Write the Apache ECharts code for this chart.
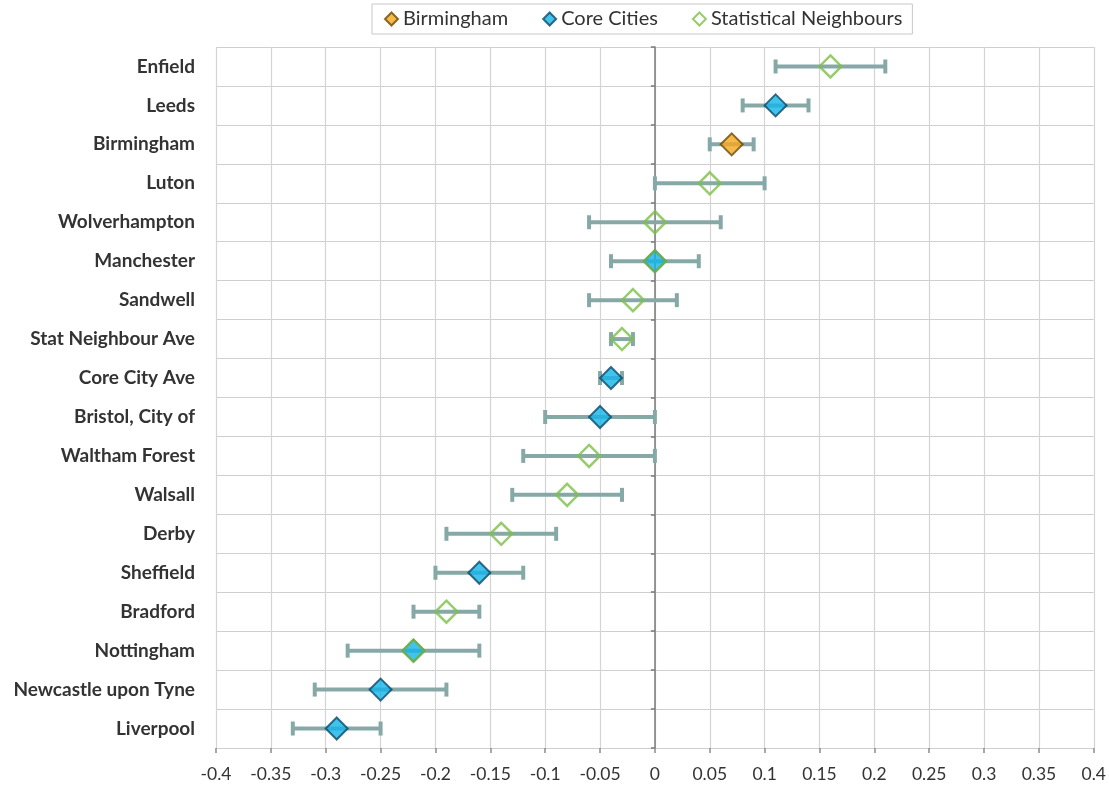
<!DOCTYPE html>
<html><head><meta charset="utf-8">
<script src="https://cdn.jsdelivr.net/npm/echarts@6/dist/echarts.min.js"></script>
<style>html,body{margin:0;padding:0;background:#fff}#c{width:1109px;height:789px}</style>
</head><body><div id="c"></div>
<script>
const categories = ["Enfield","Leeds","Birmingham","Luton","Wolverhampton","Manchester","Sandwell","Stat Neighbour Ave","Core City Ave","Bristol, City of","Waltham Forest","Walsall","Derby","Sheffield","Bradford","Nottingham","Newcastle upon Tyne","Liverpool"];
const values = [0.16,0.11,0.07,0.05,0.0,0.0,-0.02,-0.03,-0.04,-0.05,-0.06,-0.08,-0.14,-0.16,-0.19,-0.22,-0.25,-0.29];
const lower  = [0.11,0.08,0.05,0.0,-0.06,-0.04,-0.06,-0.04,-0.05,-0.10,-0.12,-0.13,-0.19,-0.20,-0.22,-0.28,-0.31,-0.33];
const upper  = [0.21,0.14,0.09,0.10,0.06,0.04,0.02,-0.02,-0.03,0.0,0.0,-0.03,-0.09,-0.12,-0.16,-0.16,-0.19,-0.25];
const birminghamGroup = ["Birmingham"];
const coreCitiesGroup = ["Leeds","Manchester","Core City Ave","Bristol, City of","Sheffield","Nottingham","Newcastle upon Tyne","Liverpool"];
const statNeighboursGroup = ["Enfield","Luton","Wolverhampton","Manchester","Sandwell","Stat Neighbour Ave","Waltham Forest","Walsall","Derby","Bradford","Nottingham"];
const xTicks = {min:-0.4, max:0.4, interval:0.05};

function pts(group){ return categories.map((c,i)=> group.includes(c) ? [values[i], c] : null).filter(Boolean); }
const errData = categories.map((c,i)=>[i, lower[i], upper[i]]);

const chart = echarts.init(document.getElementById('c'));
const font = 'Lato, "Open Sans", sans-serif';
chart.setOption({
  animation:false,
  textStyle:{fontFamily:font},
  legend:{
    top:4, left:372, data:['Birmingham','Core Cities','Statistical Neighbours'],
    borderColor:'#c8c8c8', borderWidth:1, padding:[5,10,5,12], itemGap:34,
    itemWidth:13, itemHeight:13, textStyle:{fontSize:20, color:'#333', fontFamily:font}
  },
  grid:{left:216, right:15, top:47, bottom:41},
  xAxis:{
    type:'value', min:xTicks.min, max:xTicks.max, interval:xTicks.interval,
    axisLine:{onZero:false, lineStyle:{color:'#8c8c8c', width:1.5}},
    axisTick:{show:true, length:5, lineStyle:{color:'#8c8c8c', width:1.5}},
    axisLabel:{fontSize:17.5, color:'#333', margin:17, formatter:v=>String(Math.round(v*100)/100)},
    splitLine:{lineStyle:{color:'#d4d4d4', width:1.2}}
  },
  yAxis:[{
    type:'category', data:categories, inverse:true,
    axisLine:{show:false, onZero:false}, axisTick:{show:false},
    axisLabel:{fontSize:19, fontWeight:'bold', color:'#333', margin:21},
    splitLine:{show:true, lineStyle:{color:'#cfcfcf', width:1.2}}
  },{
    type:'category', data:categories, inverse:true, position:'left',
    axisLine:{show:true, onZero:true, lineStyle:{color:'#7a7a7a', width:1.5}},
    axisTick:{show:true, length:4, lineStyle:{color:'#7a7a7a', width:1.5}},
    axisLabel:{show:false}, splitLine:{show:false}
  }],
  series:[
    {
      type:'custom', name:'err', data:errData, z:2,
      encode:{x:[1,2], y:0},
      renderItem:function(params, api){
        const ci = api.value(0);
        const lo = api.coord([api.value(1), ci]);
        const hi = api.coord([api.value(2), ci]);
        const h = 7;
        const st = {stroke:'#86a9a8', lineWidth:4};
        return {type:'group', children:[
          {type:'line', shape:{x1:lo[0], y1:lo[1], x2:hi[0], y2:hi[1]}, style:st},
          {type:'line', shape:{x1:lo[0], y1:lo[1]-h, x2:lo[0], y2:lo[1]+h}, style:st},
          {type:'line', shape:{x1:hi[0], y1:hi[1]-h, x2:hi[0], y2:hi[1]+h}, style:st}
        ]};
      }
    },
    {type:'scatter', name:'Birmingham', data:pts(birminghamGroup), symbol:'diamond', symbolSize:22, z:3,
      itemStyle:{color:'#f5a81c', borderColor:'#6b4a06', borderWidth:2}},
    {type:'scatter', name:'Core Cities', data:pts(coreCitiesGroup), symbol:'diamond', symbolSize:22, z:3,
      itemStyle:{color:'#12b4ea', borderColor:'#0d4a66', borderWidth:2}},
    {type:'scatter', name:'Statistical Neighbours', data:pts(statNeighboursGroup), symbol:'diamond', symbolSize:22, z:4,
      itemStyle:{color:'rgba(255,255,255,0)', borderColor:'#7dbf48', borderWidth:2.5}}
  ]
});
</script></body></html>
